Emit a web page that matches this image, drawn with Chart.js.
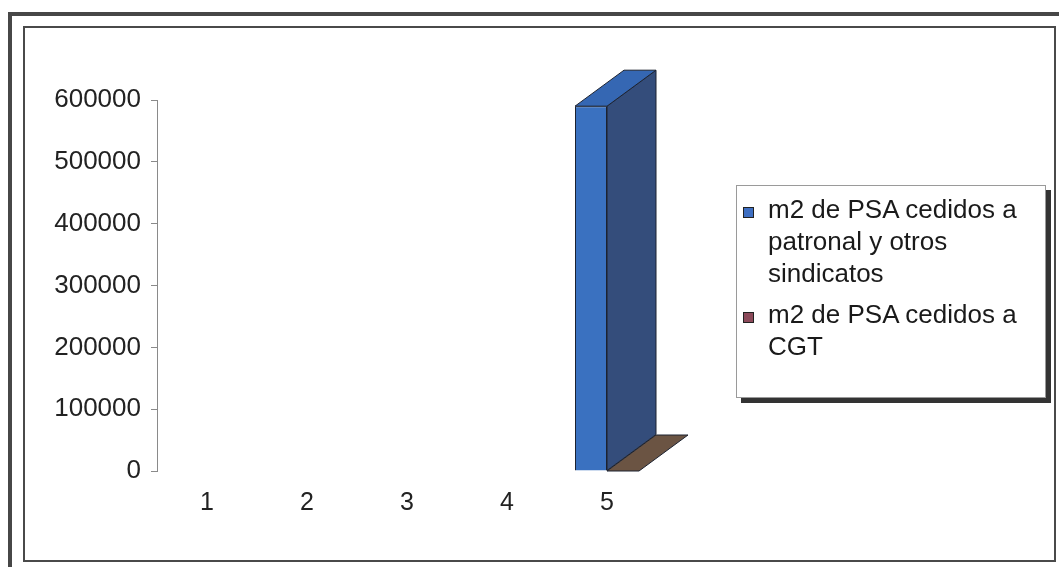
<!DOCTYPE html>
<html lang="es">
<head>
    <meta charset="UTF-8">
    <title>m2 de PSA cedidos</title>
    <script src="https://cdn.jsdelivr.net/npm/chart.js"></script>
    <style>
        body { margin: 0; background: #fff; width: 1059px; height: 567px; overflow: hidden; position: relative;
               font-family: "Liberation Sans", Arial, sans-serif; }
        .marco-ext { position: absolute; left: 8px; top: 12px; width: 1070px; height: 580px;
                     border-left: 4px solid #474747; border-top: 4px solid #474747; }
        .marco-int { position: absolute; left: 23px; top: 26px; width: 1029px; height: 532px; border: 2px solid #4a4a4a; }
        #grafico { position: absolute; left: 0; top: 0; }
        .leyenda { position: absolute; left: 736px; top: 185px; width: 310px; height: 213px; background: #fff;
                   border: 1px solid #9a9a9a; box-shadow: 5px 5px 0 #333; box-sizing: border-box; padding-top: 7px; }
        .item { position: relative; padding-left: 31px; padding-right: 2px; font-size: 26px; line-height: 32px; color: #1a1a1a; margin-bottom: 9px; }
        .cuadro { position: absolute; left: 6px; top: 14px; width: 9px; height: 9px; border: 1px solid #222; }
    </style>
</head>
<body>
    <div class="marco-ext"></div>
    <div class="marco-int"></div>
    <canvas id="grafico" width="1059" height="567"></canvas>
    <div class="leyenda" id="leyenda"></div>

    <script>
        const categorias = ["1", "2", "3", "4", "5"];
        const nombresSeries = ["m2 de PSA cedidos a patronal y otros sindicatos", "m2 de PSA cedidos a CGT"];
        const cedidosPatronal = [null, null, null, null, 590000];
        const cedidosCGT = [null, null, null, null, 0];
        const ticksY = [0, 100000, 200000, 300000, 400000, 500000, 600000];

        // colores: frente, lado, arriba, leyenda
        const colorFrente = ["#3a71c0", "#7a4a55"];
        const colorLado = ["#344d7b", "#5a3f40"];
        const colorArriba = ["#3567b3", "#6b5443"];
        const colorLeyenda = ["#3e6fc2", "#8c4a5a"];
        const fondo = { dx: 49, dy: -36 };

        const barras3D = {
            id: "barras3D",
            afterDatasetsDraw(chart) {
                const ctx = chart.ctx;
                ctx.save();
                ctx.strokeStyle = "#1c2230";
                ctx.lineWidth = 1;
                chart.data.datasets.forEach((ds, i) => {
                    const meta = chart.getDatasetMeta(i);
                    meta.data.forEach((bar, j) => {
                        if (ds.data[j] === null) return;
                        const p = bar.getProps(["x", "y", "base", "width"], true);
                        const izq = p.x - p.width / 2, der = p.x + p.width / 2;
                        // lado
                        if (p.base - p.y > 0.5) {
                            ctx.fillStyle = colorLado[i];
                            ctx.beginPath();
                            ctx.moveTo(der, p.y);
                            ctx.lineTo(der + fondo.dx, p.y + fondo.dy);
                            ctx.lineTo(der + fondo.dx, p.base + fondo.dy);
                            ctx.lineTo(der, p.base);
                            ctx.closePath();
                            ctx.fill();
                            ctx.stroke();
                        }
                        // arriba
                        ctx.fillStyle = colorArriba[i];
                        ctx.beginPath();
                        ctx.moveTo(izq, p.y);
                        ctx.lineTo(der, p.y);
                        ctx.lineTo(der + fondo.dx, p.y + fondo.dy);
                        ctx.lineTo(izq + fondo.dx, p.y + fondo.dy);
                        ctx.closePath();
                        ctx.fill();
                        ctx.stroke();
                    });
                });
                ctx.restore();
            }
        };

        const datos = [cedidosPatronal, cedidosCGT];
        const grafico = new Chart(document.getElementById("grafico"), {
            type: "bar",
            data: {
                labels: categorias,
                datasets: datos.map((d, i) => ({
                    label: nombresSeries[i],
                    data: d,
                    backgroundColor: colorFrente[i],
                    borderColor: "#1c2230",
                    borderWidth: 1,
                    categoryPercentage: 0.64,
                    barPercentage: 1
                }))
            },
            options: {
                responsive: false,
                animation: false,
                layout: { padding: { left: 20, top: 100, right: 402, bottom: 0 } },
                plugins: { legend: { display: false }, tooltip: { enabled: false } },
                scales: {
                    x: {
                        grid: { display: false },
                        border: { display: false },
                        ticks: { color: "#222", padding: 9, font: { family: "Liberation Sans", size: 25 } },
                        afterFit: s => { s.height = 96; }
                    },
                    y: {
                        min: 0,
                        max: 600000,
                        afterBuildTicks: s => { s.ticks = ticksY.map(v => ({ value: v })); },
                        grid: { drawOnChartArea: false, drawTicks: true, tickLength: 6, color: "#8a8a8a" },
                        border: { display: true, color: "#8a8a8a" },
                        ticks: { color: "#222", padding: 10, font: { family: "Liberation Sans", size: 26 },
                                 callback: v => String(v) },
                        afterFit: s => { s.width = 137; }
                    }
                }
            },
            plugins: [barras3D]
        });

        const leyenda = document.getElementById("leyenda");
        grafico.data.datasets.forEach((ds, i) => {
            const item = document.createElement("div");
            item.className = "item";
            const cuadro = document.createElement("span");
            cuadro.className = "cuadro";
            cuadro.style.background = colorLeyenda[i];
            item.appendChild(cuadro);
            item.appendChild(document.createTextNode(ds.label));
            leyenda.appendChild(item);
        });
    </script>
</body>
</html>
